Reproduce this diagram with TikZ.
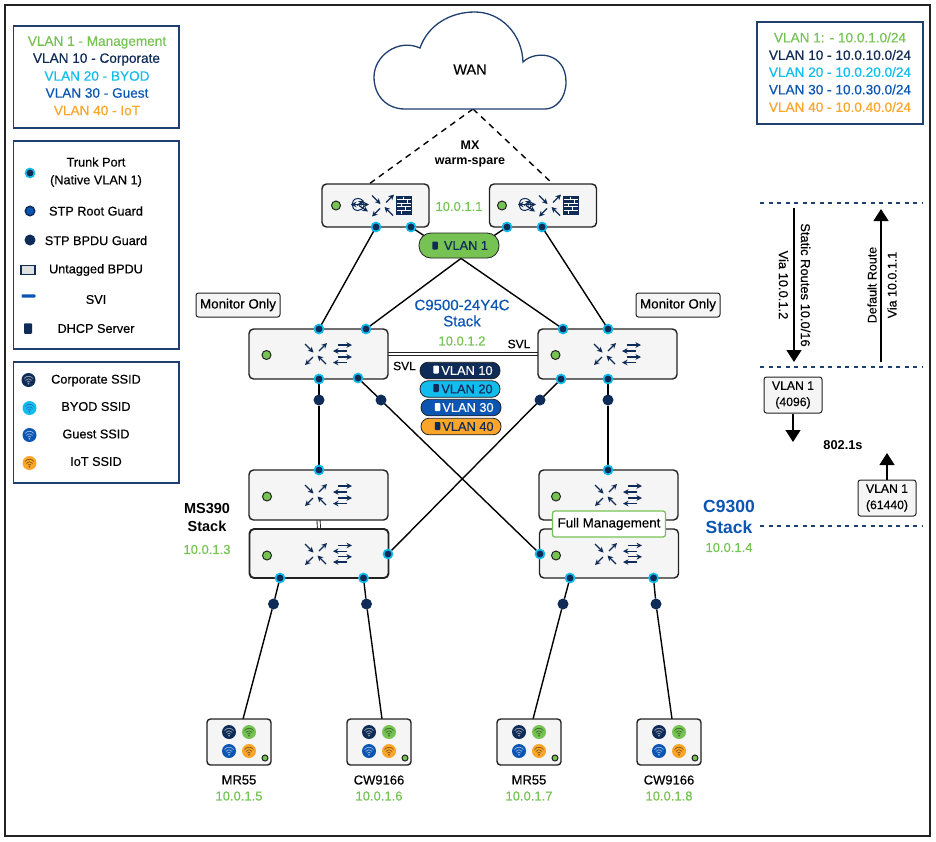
\documentclass[tikz,border=0pt]{standalone}
\usepackage{fontspec}
\setmainfont{Liberation Sans}[UprightFeatures={FakeBold=0.4}]
\usetikzlibrary{arrows.meta,backgrounds}
\definecolor{cnavy}{HTML}{0F2B57}
\definecolor{ccyan}{HTML}{12BDEE}
\definecolor{cblue}{HTML}{0B55B3}
\definecolor{corange}{HTML}{FBA62A}
\definecolor{cgreen}{HTML}{76C354}
\definecolor{cframe}{HTML}{1F3F6E}
\definecolor{cbox}{HTML}{F5F5F5}
\definecolor{cink}{HTML}{222222}
\newcommand{\fsz}[1]{\fontsize{#1}{#1}\selectfont}
\tikzset{
 legendbox/.style={draw=cframe,line width=1.3pt,fill=white},
 ltext/.style={font=\fsz{13.6},inner sep=0pt,align=center},
 mtext/.style={font=\fsz{12.7},inner sep=0pt,align=center,text=black},
 devbox/.style={draw=cink,line width=1.4pt,fill=cbox,rounded corners=4.5pt,inner sep=0pt,outer sep=0pt,minimum width=#1},
 devbox/.default=139pt,
 port/.style={circle,fill=cnavy,draw=ccyan,line width=1.7pt,inner sep=0pt,minimum size=9pt,outer sep=0pt},
 guard/.style={circle,fill=cnavy,inner sep=0pt,minimum size=11pt,outer sep=0pt},
 led/.style={circle,fill=cgreen,draw=cink,line width=1pt,inner sep=0pt,minimum size=9pt},
 pill/.style={rounded corners=8pt,draw=cink,line width=.8pt,inner sep=0pt,minimum width=80pt,minimum height=16.5pt,font=\fsz{12.8}},
 dhcp/.style={fill=#1,rounded corners=.8pt,inner sep=0pt,minimum width=5.5pt,minimum height=8pt},
 tag/.style={draw=cink,line width=1pt,fill=cbox,rounded corners=2.5pt,inner sep=0pt,font=\fsz{12.2},align=center},
 link/.style={draw=black,line width=1.4pt},
 wandash/.style={draw=black,line width=1.4pt,dash pattern=on 6pt off 5pt},
 rule/.style={draw=cframe,line width=1.2pt,dash pattern=on 4pt off 4.5pt},
 bigarrow/.style={draw=black,line width=1.4pt,-{Triangle[length=12pt,width=15pt]}},
 midarrow/.style={draw=black,line width=1.4pt,-{Triangle[length=12pt,width=15pt]}},
 ip/.style={text=cgreen,font=\fsz{13},inner sep=0pt},
 sa/.style={draw=cnavy,line width=1.25pt,-{Stealth[length=5.5pt,width=5.5pt]}},
 pics/crossarrows/.style={code={
   \draw[sa] (3,-3) -- (11,-11);
   \draw[sa] (-3,3) -- (-11,11);
   \draw[sa] (-11,-10) -- (-2.5,-1.5);
   \draw[sa] (10,10) -- (1.5,1.5);
 }},
 pics/swicon/.style={code={
   \pic {crossarrows};
   \draw[sa] (22,-9) -- (36,-9);
   \draw[sa] (31,-3) -- (17,-3);
   \draw[sa] (22,3) -- (36,3);
   \draw[sa] (31,8.5) -- (17,8.5);
 }},
 pics/mxicon/.style={code={
   \pic {crossarrows};
   \draw[cnavy,line width=1pt] (-25,-7) .. controls (-21,-7) and (-19,-4) .. (-19,-1) .. controls (-19,3) and (-22,5) .. (-25,5) .. controls (-29,5) and (-31,2) .. (-31,-1) .. controls (-31,-4) and (-29,-7) .. (-25,-7) -- cycle;
   \draw[sa] (-26,-1) -- (-32,-1);
   \draw[sa] (-27,-1) -- (-14,-1);
   \draw[sa] (-24,0) -- (-15,6);
   \draw[sa] (-26,0) -- (-19,-5);
   \fill[cnavy] (13,-9.5) rectangle (29,9);
   \draw[white,line width=.6pt] (14,-6) -- (28,-6) (14,-2.5) -- (28,-2.5) (14,1) -- (28,1) (14,5) -- (28,5)
     (20,-9) -- (20,-6) (24,-6) -- (24,-2.5) (18,-2.5) -- (18,1) (22,1) -- (22,5) (18,5) -- (18,8.5);
 }},
 pics/wifi/.style 2 args={code={
   \fill[#1] (0,0) circle[radius=7pt];
   \draw[#2,line width=.6pt,line cap=round] (-4.5,-1.5) .. controls (-2,-4.5) and (2,-4.5) .. (4.5,-1.5);
   \draw[#2,line width=.6pt,line cap=round] (-3,.3) .. controls (-1.5,-1.8) and (1.5,-1.8) .. (3,.3);
   \draw[#2,line width=.6pt,line cap=round] (-1.5,2) .. controls (-.7,1) and (.7,1) .. (1.5,2);
   \fill[#2] (0,3.7) circle[radius=.8pt];
 }},
}
\begin{document}
\begin{tikzpicture}[x=1pt,y=-1pt]
\useasboundingbox (0,0) rectangle (936,841);

% legends
\node[legendbox,minimum width=165.5pt,minimum height=102pt] (lg1) at (96.25,77) {};
\node[ltext,text=cgreen] (l11) at (97,42.5) {VLAN 1 - Management};
\node[ltext,text=cnavy] (l12) at (96.5,59.5) {VLAN 10 - Corporate};
\node[ltext,text=ccyan] (l13) at (97,76) {VLAN 20 - BYOD};
\node[ltext,text=cblue] (l14) at (97,93) {VLAN 30 - Guest};
\node[ltext,text=corange] (l15) at (97,110.5) {VLAN 40 - IoT};

\node[legendbox,minimum width=165.5pt,minimum height=208pt] (lg2) at (96.25,245) {};
\node[mtext] (l21) at (96,162) {Trunk Port};
\node[mtext] (l21b) at (96,181) {(Native VLAN 1)};
\node[mtext] (l22) at (96,211) {STP Root Guard};
\node[mtext] (l23) at (96,240.5) {STP BPDU Guard};
\node[mtext] (l24) at (96,270) {Untagged BPDU};
\node[mtext] (l25) at (96,299.5) {SVI};
\node[mtext] (l26) at (96,328.5) {DHCP Server};
\node[port] (m1) at (30,173) {};
\node[circle,fill=cblue,draw=cnavy,line width=1.4pt,inner sep=0pt,minimum size=9.5pt] (m2) at (30,211) {};
\node[guard] (m3) at (30,240) {};
\node[draw=cnavy,line width=1.4pt,fill=black!12,inner sep=0pt,minimum width=14pt,minimum height=9.5pt] (m4) at (28,270) {};
\node[fill=cblue,rounded corners=1pt,inner sep=0pt,minimum width=14pt,minimum height=3.2pt] (m5) at (28.5,296) {};
\node[dhcp=cnavy,minimum width=8pt,minimum height=10.5pt] (m6) at (28,328.5) {};

\node[legendbox,minimum width=165.5pt,minimum height=121pt] (lg3) at (96.25,422.5) {};
\node[mtext] (l31) at (96,380.5) {Corporate SSID};
\node[mtext] (l32) at (96,406.5) {BYOD SSID};
\node[mtext] (l33) at (96,434) {Guest SSID};
\node[mtext] (l34) at (96,461.5) {IoT SSID};
\pic at (28.5,380) {wifi={cnavy}{white!65!cnavy}};
\pic at (29.5,408) {wifi={ccyan}{white!10!cblue}};
\pic at (29.5,435) {wifi={cblue}{white!65!cblue}};
\pic at (29.5,463) {wifi={corange}{black!55!corange}};

\node[legendbox,minimum width=166pt,minimum height=102pt] (lg4) at (840,73) {};
\node[ltext,text=cgreen] (l41) at (840,37.5) {VLAN 1: - 10.0.1.0/24};
\node[ltext,text=cnavy] (l42) at (840,55) {VLAN 10 - 10.0.10.0/24};
\node[ltext,text=ccyan] (l43) at (840,72) {VLAN 20 - 10.0.20.0/24};
\node[ltext,text=cblue] (l44) at (840,89.5) {VLAN 30 - 10.0.30.0/24};
\node[ltext,text=corange] (l45) at (840,107) {VLAN 40 - 10.0.40.0/24};

% cloud
\draw[draw=cframe,line width=1.3pt,fill=white] (405,109) .. controls (386,109) and (374,95) .. (374,77)
  .. controls (374,56) and (398,38) .. (420,48) .. controls (428,25) and (450,12) .. (475,12)
  .. controls (500,12) and (522,33) .. (523,62) .. controls (535,50) and (566,52) .. (566,82)
  .. controls (566,98) and (556,109) .. (545,109) -- cycle;
\coordinate (wanb) at (473,109);
\node[font=\fsz{14.5},inner sep=0pt] (wan) at (470,69.5) {WAN};

% MX
\node[devbox=107pt,minimum height=43pt] (mxl) at (375.5,205.5) {};
\node[devbox=107pt,minimum height=43pt] (mxr) at (543,205.5) {};
\node[led] (ledmxl) at (336,205.5) {};
\node[led] (ledmxr) at (502,205.5) {};
\pic at (383,205.5) {mxicon};
\pic at (550,205.5) {mxicon};
\node[font=\bfseries\fsz{12.5},inner sep=0pt] (mxt) at (470,145) {MX};
\node[font=\bfseries\fsz{12.5},inner sep=0pt] (mxt2) at (470,162.5) {warm-spare};
\node[ip] (ip1) at (459,206.5) {10.0.1.1};
\node[pill,fill=cgreen,minimum height=25pt,minimum width=80pt,rounded corners=12pt,text=cnavy,font=\fsz{12.8}] (vlan1) at (459,245.5) {\hspace*{14pt}VLAN 1};
\node[dhcp=cnavy] (d1) at (435,245.5) {};
\node[port] (mxp1) at (376,227) {};
\node[port] (mxp2) at (411,227) {};
\node[port] (mxp3) at (507,227) {};
\node[port] (mxp4) at (542,227) {};

% core
\node[tag,font=\fsz{13.4},minimum width=84pt,minimum height=24pt] (mon1) at (238,305) {Monitor Only};
\node[tag,font=\fsz{13.4},minimum width=84pt,minimum height=24pt] (mon2) at (678,305) {Monitor Only};
\node[devbox,minimum height=50pt] (cl) at (318.5,354) {};
\node[devbox,minimum height=50pt] (cr) at (607.5,354) {};
\node[led] (ledcl) at (266.5,355) {};
\node[led] (ledcr) at (555.5,355) {};
\pic at (316,354) {swicon};
\pic at (605,354) {swicon};
\node[font=\fsz{15},text=cblue,inner sep=0pt] (c95) at (462,305) {C9500-24Y4C};
\node[font=\fsz{15},text=cblue,inner sep=0pt] (c95b) at (462,321) {Stack};
\node[ip] (ip2) at (462,341) {10.0.1.2};
\node[font=\fsz{12},inner sep=0pt] (svl1) at (404.5,366) {SVL};
\node[font=\fsz{12},inner sep=0pt] (svl2) at (519,344) {SVL};
\node[pill,fill=cnavy,text=white] (v10) at (460,370.5) {\hspace*{14pt}VLAN 10};
\node[pill,fill=ccyan,text=cnavy] (v20) at (460,389) {\hspace*{14pt}VLAN 20};
\node[pill,fill=cblue,text=white] (v30) at (461,407.5) {\hspace*{14pt}VLAN 30};
\node[pill,fill=corange,text=cnavy] (v40) at (461,426.5) {\hspace*{14pt}VLAN 40};
\node[dhcp=white] (d10) at (436,369.5) {};
\node[dhcp=cnavy] (d20) at (436,388) {};
\node[dhcp=white] (d30) at (437.5,407) {};
\node[dhcp=cnavy] (d40) at (437.5,426) {};
\node[port] (cp1) at (319,329) {};
\node[port] (cp2) at (366,329) {};
\node[port] (cp3) at (563,329) {};
\node[port] (cp4) at (608,329) {};
\node[port] (cp5) at (319,379) {};
\node[port] (cp6) at (358,378) {};
\node[port] (cp7) at (561,379) {};
\node[port] (cp8) at (608,379) {};
\node[guard] (g1) at (319,400) {};
\node[guard] (g2) at (381,400) {};
\node[guard] (g3) at (540,400) {};
\node[guard] (g4) at (608,400) {};

% access stacks
\node[devbox,minimum height=50pt] (al1) at (318.5,495) {};
\node[devbox,minimum height=49pt,line width=1.9pt] (al2) at (319,553.5) {};
\node[devbox,minimum height=50pt] (ar1) at (608.5,495) {};
\node[devbox,minimum height=49pt] (ar2) at (609,553.5) {};
\node[led] (ledal1) at (267,496.5) {};
\node[led] (ledal2) at (267,555.5) {};
\node[led] (ledar1) at (556,496.5) {};
\node[led] (ledar2) at (556,555.5) {};
\pic at (316,495) {swicon};
\pic[yscale=.95] at (316,554) {swicon};
\pic at (606,495) {swicon};
\pic[yscale=.95] at (606,554) {swicon};
\node[draw=cgreen,line width=1.3pt,fill=white,rounded corners=2.5pt,inner sep=0pt,minimum width=113pt,minimum height=26pt,font=\fsz{13.3}] (full) at (609,524) {Full Management};
\node[font=\bfseries\fsz{14.5},inner sep=0pt] (ms1) at (207,508.5) {MS390};
\node[font=\bfseries\fsz{14.5},inner sep=0pt] (ms2) at (207,526) {Stack};
\node[ip] (ip3) at (207,549.5) {10.0.1.3};
\node[font=\bfseries\fsz{17.5},text=cblue,inner sep=0pt] (c93) at (729,506) {C9300};
\node[font=\bfseries\fsz{17.5},text=cblue,inner sep=0pt] (c93b) at (729,527) {Stack};
\node[ip] (ip4) at (729,547.5) {10.0.1.4};
\node[port] (ap1) at (319,470) {};
\node[port] (ap2) at (388,554) {};
\node[port] (ap3) at (280,578) {};
\node[port] (ap4) at (363.5,578) {};
\node[port] (ap5) at (608,470) {};
\node[port] (ap6) at (540,554) {};
\node[port] (ap7) at (570,578) {};
\node[port] (ap8) at (653.5,578) {};
\node[guard] (g5) at (273.5,604) {};
\node[guard] (g6) at (366.5,604) {};
\node[guard] (g7) at (563,604) {};
\node[guard] (g8) at (656,604) {};

% access points
\foreach \n/\cx/\nm/\addr in {1/239/MR55/10.0.1.5, 2/379/CW9166/10.0.1.6, 3/529/MR55/10.0.1.7, 4/669/CW9166/10.0.1.8}{
  \node[devbox=64pt,minimum height=46pt,rounded corners=3.5pt] (wap\n) at (\cx,742) {};
  \pic at (\cx-10,732) {wifi={cnavy}{white!65!cnavy}};
  \pic at (\cx+10,732) {wifi={cgreen}{black!55!cgreen}};
  \pic at (\cx-10,751) {wifi={cblue}{white!65!cblue}};
  \pic at (\cx+10,751) {wifi={corange}{black!55!corange}};
  \node[led,minimum size=6pt] (wled\n) at (\cx+26,758) {};
  \node[font=\fsz{13},inner sep=0pt] (wname\n) at (\cx,780) {\nm};
  \node[ip] (wip\n) at (\cx,796) {\addr};
}

% right-hand panel
\coordinate (r1a) at (760,203); \coordinate (r1b) at (922,203);
\coordinate (r2a) at (760,367); \coordinate (r2b) at (922,367);
\coordinate (r3a) at (760,526); \coordinate (r3b) at (922,526);
\draw[rule] (r1a) -- (r1b);
\draw[rule] (r2a) -- (r2b);
\draw[rule] (r3a) -- (r3b);
\coordinate (sta) at (794,208); \coordinate (stb) at (794,362);
\coordinate (dra) at (881,362); \coordinate (drb) at (881,209);
\draw[bigarrow] (sta) -- (stb);
\draw[bigarrow] (dra) -- (drb);
\node[rotate=-90,font=\fsz{12.9},inner sep=0pt] (t1) at (805.5,285) {Static Routes 10.0/16};
\node[rotate=-90,font=\fsz{12.9},inner sep=0pt] (t2) at (783.5,285) {Via 10.0.1.2};
\node[rotate=90,font=\fsz{12.5},inner sep=0pt] (t3) at (872,285) {Default Route};
\node[rotate=90,font=\fsz{12.5},inner sep=0pt] (t4) at (892,285) {Via 10.0.1.1};
\node[tag,minimum width=58pt,minimum height=36pt] (tg1) at (793,395) {VLAN 1\\[4pt](4096)};
\node[tag,minimum width=58pt,minimum height=36pt] (tg2) at (887,498) {VLAN 1\\[4pt](61440)};
\coordinate (arr1) at (793,442);
\coordinate (arr2) at (887,453);
\draw[midarrow] (tg1) -- (arr1);
\draw[midarrow] (tg2) -- (arr2);
\node[font=\bfseries\fsz{12.8},inner sep=0pt] (s8021) at (843,445) {802.1s};

% frame and connectors behind everything
\begin{scope}[on background layer]
  \fill[white] (0,0) rectangle (936,841);
  \draw[draw=cink,line width=2pt] (5,5) rectangle (930,836);
  \draw[wandash] (wanb) -- ([xshift=-6.5pt]mxl.north);
  \draw[wandash] (wanb) -- ([xshift=10pt]mxr.north);
  \draw[link] (mxp1) -- (cp1);
  \draw[link] (mxp4) -- (cp4);
  \draw[link] (mxp2) -- ([xshift=-20pt]vlan1.center);
  \draw[link] (mxp3) -- ([xshift=20pt]vlan1.center);
  \draw[link] ([xshift=2pt]vlan1.south) -- (cp2);
  \draw[link] ([xshift=2pt]vlan1.south) -- (cp3);
  \draw[draw=cink,line width=1pt,double=white,double distance=2.2pt] (cl.east) -- (cr.west);
  \draw[draw=cink,line width=.9pt,double=white,double distance=2.2pt] (al1.south) -- (al2.north);
  \draw[link] (cp5) -- (g1);
  \draw[link] (g1) -- (ap1);
  \draw[link] (cp8) -- (g4);
  \draw[link] (g4) -- (ap5);
  \draw[link] (cp6) -- (ap6);
  \draw[link] (ap2) -- (cp7);
  \draw[link] (ap3) -- (g5);
  \draw[link] (g5) -- ([xshift=4pt]wap1.north);
  \draw[link] (ap4) -- (g6);
  \draw[link] (g6) -- ([xshift=3pt]wap2.north);
  \draw[link] (ap7) -- (g7);
  \draw[link] (g7) -- ([xshift=4pt]wap3.north);
  \draw[link] (ap8) -- (g8);
  \draw[link] (g8) -- ([xshift=3pt]wap4.north);
\end{scope}
\end{tikzpicture}
\end{document}
